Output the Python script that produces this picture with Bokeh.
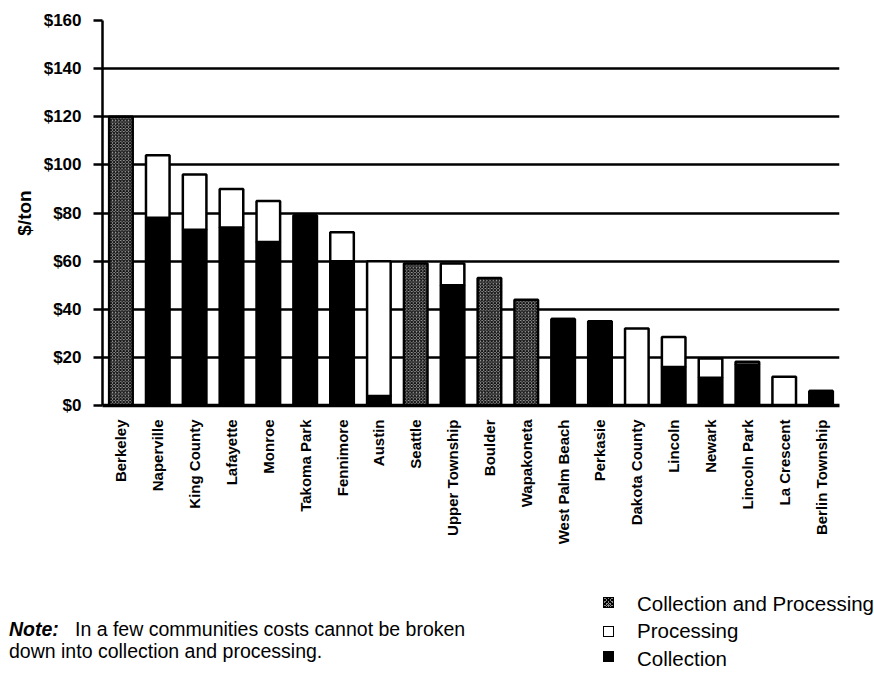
import math
from bokeh.plotting import figure
from bokeh.models import Range1d, FixedTicker, ColumnDataSource, FactorRange, Div
from bokeh.layouts import column
from bokeh.embed import file_html
from bokeh.resources import INLINE
from bokeh.transform import stack

# ---------------- data ----------------
cities = ["Berkeley", "Naperville", "King County", "Lafayette", "Monroe",
          "Takoma Park", "Fennimore", "Austin", "Seattle", "Upper Township",
          "Boulder", "Wapakoneta", "West Palm Beach", "Perkasie", "Dakota County",
          "Lincoln", "Newark", "Lincoln Park", "La Crescent", "Berlin Township"]
collection = [0, 78, 73, 74, 68, 79, 60, 4, 0, 50,
              0, 0, 36, 35, 0, 16, 11.5, 17, 0, 6]
processing = [0, 26, 23, 16, 17, 0, 12, 56, 0, 9,
              0, 0, 0, 0, 32, 12.5, 8, 1.2, 12, 0]
collection_and_processing = [120, 0, 0, 0, 0, 0, 0, 0, 59, 0,
                             53, 44, 0, 0, 0, 0, 0, 0, 0, 0]
y_ticks = [0, 20, 40, 60, 80, 100, 120, 140, 160]
y_tick_labels = ["$0", "$20", "$40", "$60", "$80", "$100", "$120", "$140", "$160"]
y_title = "$/ton"
legend_labels = ["Collection and Processing", "Processing", "Collection"]
note_lead = "Note:"
note_lines = ["In a few communities costs cannot be broken",
              "down into collection and processing."]

FONT_NAME = "Liberation Sans"
HATCH = dict(fill_color="#a8a8a8", hatch_pattern="diagonal_cross",
             hatch_color="#111111", hatch_scale=3.2, hatch_weight=1.2)

src = ColumnDataSource(dict(city=cities, collection=collection,
                            processing=processing,
                            both=collection_and_processing))

# ---------------- main chart ----------------
p = figure(x_range=FactorRange(*cities), y_range=Range1d(0, 160),
           width=870, height=585, output_backend="svg", toolbar_location=None,
           min_border_left=102, min_border_right=31, min_border_top=20,
           min_border_bottom=180)
p.outline_line_color = None
p.background_fill_color = "white"

BW = 0.64
p.vbar(x="city", bottom=0, top="collection", width=BW, source=src,
       fill_color="black", line_color="black", line_width=2.5)
p.vbar(x="city", bottom=stack("collection"), top=stack("collection", "processing"),
       width=BW, source=src, fill_color="white", line_color="black", line_width=2.5)
p.vbar(x="city", bottom=0, top="both", width=BW, source=src,
       line_color="black", line_width=2.5, **HATCH)

ticker = FixedTicker(ticks=y_ticks)
p.yaxis.ticker = ticker
p.yaxis.major_label_overrides = {t: l for t, l in zip(y_ticks, y_tick_labels)}
p.yaxis.minor_tick_line_color = None
p.yaxis.major_tick_in = 0
p.yaxis.major_tick_out = 9
p.yaxis.major_tick_line_width = 2.5
p.yaxis.major_tick_line_color = "black"
p.yaxis.axis_line_width = 2.5
p.yaxis.axis_line_color = "black"
p.yaxis.major_label_standoff = 12
p.yaxis.major_label_text_font = FONT_NAME
p.yaxis.major_label_text_font_style = "bold"
p.yaxis.major_label_text_font_size = "17px"
p.yaxis.major_label_text_color = "black"
p.yaxis.axis_label = y_title
p.yaxis.axis_label_text_font = FONT_NAME
p.yaxis.axis_label_text_font_style = "bold"
p.yaxis.axis_label_text_font_size = "19px"
p.yaxis.axis_label_text_color = "black"
p.yaxis.axis_label_standoff = 6

p.xaxis.major_label_orientation = math.pi / 2
p.xaxis.major_tick_line_color = None
p.xaxis.major_tick_out = 0
p.xaxis.major_tick_in = 0
p.xaxis.axis_line_width = 3.5
p.xaxis.axis_line_color = "black"
p.xaxis.major_label_standoff = 14
p.xaxis.major_label_text_font = FONT_NAME
p.xaxis.major_label_text_font_style = "bold"
p.xaxis.major_label_text_font_size = "15px"
p.xaxis.major_label_text_color = "black"

p.xgrid.visible = False
p.ygrid.ticker = ticker
p.ygrid.grid_line_color = "black"
p.ygrid.grid_line_width = 2.5

# ---------------- note & legend (HTML block under the chart) ----------------
hatch_css = ("background:"
             "repeating-linear-gradient(45deg,#000 0 1px,transparent 1px 2.5px),"
             "repeating-linear-gradient(-45deg,#000 0 1px,transparent 1px 2.5px),#888;")
swatch_css = [hatch_css, "background:#fff;", "background:#000;"]
swatch_tops = [7, 36, 61]
text_tops = [3.5, 31, 58.5]

line_css = "position:absolute;font-size:19.5px;line-height:19px;white-space:nowrap;"
parts = ['<div style="position:relative;width:870px;height:90px;'
         f'font-family:\'{FONT_NAME}\';color:#000;">']
for lab, css, st, tt in zip(legend_labels, swatch_css, swatch_tops, text_tops):
    parts.append(f'<div style="position:absolute;left:598px;top:{st}px;width:11px;height:11px;'
                 f'border:1.5px solid #000;{css}"></div>')
    parts.append(f'<div style="position:absolute;left:632px;top:{tt}px;font-size:20.5px;'
                 f'line-height:1;white-space:nowrap;">{lab}</div>')
parts.append(f'<div style="{line_css}left:4px;top:29.5px;font-weight:bold;font-style:italic;">'
             f'{note_lead}</div>')
parts.append(f'<div style="{line_css}left:70px;top:29.5px;">{note_lines[0]}</div>')
parts.append(f'<div style="{line_css}left:4px;top:51.5px;">{note_lines[1]}</div>')
parts.append('</div>')
note_div = Div(text="".join(parts), width=870, height=90)

layout = column(p, note_div, spacing=0)
open("out.html", "w").write(file_html(layout, INLINE))
